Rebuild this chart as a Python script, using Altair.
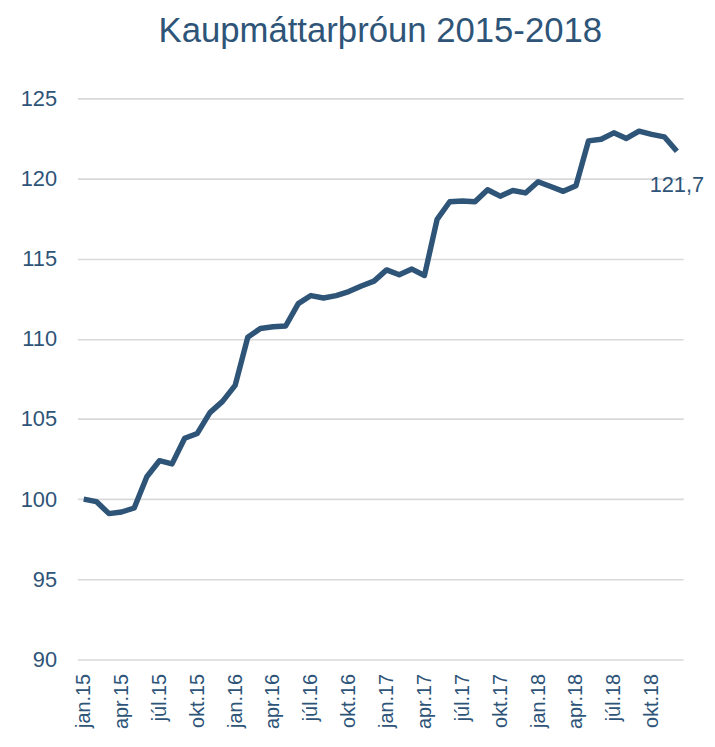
import altair as alt
import pandas as pd

months = ["jan", "feb", "mar", "apr", "maí", "jún", "júl", "ágú", "sep", "okt", "nóv", "des"]
years = ["15", "16", "17", "18"]
labels = [f"{m}.{y}" for y in years for m in months]

values = [
    100.0, 99.85, 99.1, 99.2, 99.45, 101.4, 102.4, 102.2, 103.8, 104.1, 105.4, 106.1,
    107.1, 110.1, 110.65, 110.75, 110.8, 112.2, 112.7, 112.55, 112.7, 112.95, 113.3, 113.6,
    114.3, 114.0, 114.35, 113.95, 117.45, 118.55, 118.6, 118.55, 119.3, 118.9, 119.25, 119.1,
    119.8, 119.5, 119.2, 119.55, 122.35, 122.45, 122.85, 122.5, 122.95, 122.75, 122.6, 121.7,
]
shown_labels = [l for l in labels if l.split(".")[0] in ("jan", "apr", "júl", "okt")]
y_ticks = [90, 95, 100, 105, 110, 115, 120, 125]

df = pd.DataFrame({"i": range(len(labels)), "month": labels, "v": values})

FONT = "Liberation Sans"
TEXT = "#2E5478"
LINE = "#2E5478"

x_enc = alt.X(
    "month:N",
    sort=None,
    scale=alt.Scale(type="point", padding=0.5),
    axis=alt.Axis(
        values=shown_labels,
        labelAngle=-90,
        labelFontSize=20,
        labelColor=TEXT,
        labelFont=FONT,
        labelPadding=14,
        ticks=False,
        domain=False,
        grid=False,
        title=None,
    ),
)
y_enc = alt.Y(
    "v:Q",
    scale=alt.Scale(domain=[90, 125], nice=False, zero=False),
    axis=alt.Axis(
        values=y_ticks,
        labelFontSize=22,
        labelColor=TEXT,
        labelFont=FONT,
        labelPadding=21,
        ticks=False,
        domain=False,
        grid=True,
        gridColor="#D9D9D9",
        gridWidth=1.6,
        title=None,
    ),
)

line = alt.Chart(df).mark_line(color=LINE, strokeWidth=5.5, strokeJoin="round").encode(
    x=x_enc, y=y_enc, order=alt.Order("i:Q")
)

last = alt.Chart(df).transform_filter(
    alt.datum.i == len(labels) - 1
).transform_calculate(
    lab="replace(format(datum.v, '.1f'), '.', ',')"
).mark_text(
    fontSize=22, font=FONT, color=TEXT, dy=34, dx=0, align="center", baseline="middle"
).encode(x=x_enc, y=y_enc, text="lab:N")

chart = (
    alt.layer(line, last)
    .properties(
        width=611,
        height=566,
        autosize=alt.AutoSizeParams(type="none"),
        padding={"left": 70, "top": 88, "right": 24, "bottom": 73},
        title=alt.TitleParams(
            "Kaupmáttarþróun 2015-2018",
            fontSize=35,
            font=FONT,
            color=TEXT,
            fontWeight="normal",
            anchor="middle",
            frame="group",
            baseline="alphabetic",
            offset=11,
        ),
    )
    .configure_view(stroke=None)
)

chart.save("out.html", embed_options={"renderer": "svg", "actions": False})
